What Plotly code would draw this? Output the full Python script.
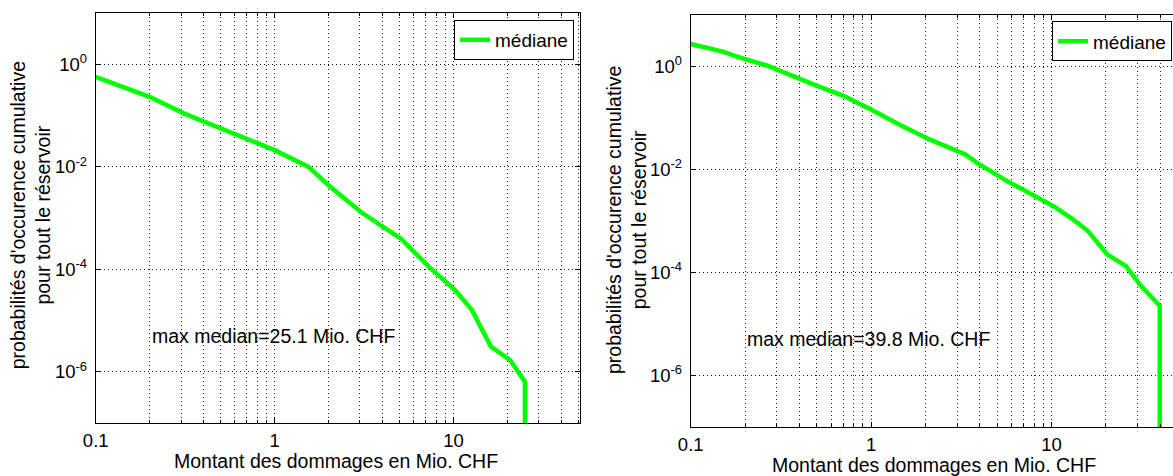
import math
import plotly.graph_objects as go

W, H = 1173, 476

# ---- data ----
left_x = [0.1, 0.2, 0.313, 0.52, 0.785, 1.0, 1.55, 2.0, 3.05, 5.07, 7.3, 10.2, 12.7, 16.2, 20.7, 25.1, 25.1]
left_y = [0.575, 0.234, 0.11, 0.054, 0.0296, 0.0213, 0.01, 0.0044, 0.0013, 4.0e-4, 1.12e-4, 3.95e-5,
          1.6e-5, 3.1e-6, 1.7e-6, 6.4e-7, 1e-9]

right_x = [0.1, 0.149, 0.19, 0.266, 0.498, 0.697, 1.0, 1.43, 2.11, 3.33, 3.85, 5.67, 8.13, 10.2,
           13.1, 15.9, 20.3, 25.8, 31.3, 39.8, 39.8]
right_y = [2.7, 1.95, 1.45, 1.03, 0.42, 0.27, 0.145, 0.074, 0.038, 0.0195, 0.0135, 0.0059, 0.003,
           0.00195, 0.00108, 6.4e-4, 2.25e-4, 1.34e-4, 5.5e-5, 2.25e-5, 1e-9]

max_median = [25.1, 39.8]
series_name = "médiane"
x_title = "Montant des dommages en Mio. CHF"
y_title = "probabilités d'occurence cumulative<br>pour tout le réservoir"

x_tickvals = [0.1, 1, 10]
x_ticktext = ["0.1", "1", "10"]
x_minorvals = [0.2, 0.3, 0.4, 0.5, 0.6, 0.7, 0.8, 0.9, 2, 3, 4, 5, 6, 7, 8, 9, 20, 30, 40, 50]
y_tickvals = [1e-6, 1e-4, 1e-2, 1]
y_ticktext = ["10<sup>-6</sup>", "10<sup>-4</sup>", "10<sup>-2</sup>", "10<sup>0</sup>"]

FONT = "Liberation Sans, Arial, sans-serif"
GREEN = "#00ff00"
GRID = "#1a1a1a"
DASH = "1px,3px"

fig = go.Figure()
fig.add_trace(go.Scatter(x=left_x, y=left_y, mode="lines", name=series_name,
                         line=dict(color=GREEN, width=4.5), xaxis="x", yaxis="y",
                         legend="legend"))
fig.add_trace(go.Scatter(x=right_x, y=right_y, mode="lines", name=series_name,
                         line=dict(color=GREEN, width=4.5), xaxis="x2", yaxis="y2",
                         legend="legend2"))


def xax(domain, rng, anchor):
    return dict(type="log", domain=domain, range=rng, anchor=anchor, tickmode="array",
                tickvals=x_tickvals, ticktext=x_ticktext, automargin=False,
                showgrid=True, gridcolor=GRID, griddash=DASH, gridwidth=1,
                showline=True, linecolor="black", linewidth=1, mirror="ticks",
                ticks="inside", ticklen=5, tickcolor="black", zeroline=False,
                minor=dict(tickmode="array", tickvals=x_minorvals, ticks="inside", ticklen=3,
                           tickcolor="black", showgrid=True, gridcolor=GRID,
                           griddash=DASH, gridwidth=1),
                tickfont=dict(size=18.5, color="black", family=FONT),
                ticklabelstandoff=1)


def yax(domain, anchor, mirror):
    return dict(type="log", domain=domain, range=[-7, 1], anchor=anchor, tickmode="array",
                tickvals=y_tickvals, ticktext=y_ticktext, automargin=False,
                showgrid=True, gridcolor=GRID, griddash=DASH, gridwidth=1,
                showline=True, linecolor="black", linewidth=1, mirror=mirror,
                ticks="inside", ticklen=5, tickcolor="black", zeroline=False,
                tickfont=dict(size=18.5, color="black", family=FONT),
                ticklabelstandoff=4)


L0, L1 = 95.7, 580.0
R0 = 690.7
r_dec = 180.4
r_end = -1 + (W - R0) / r_dec

fig.update_layout(
    width=W, height=H,
    margin=dict(l=0, r=0, t=0, b=0, autoexpand=False),
    paper_bgcolor="white", plot_bgcolor="white",
    font=dict(family=FONT, color="black", size=19),
    xaxis=xax([L0 / W, L1 / W], [-1, math.log10(51)], "y"),
    yaxis=yax([1 - 423 / H, 1 - 13.3 / H], "x", "ticks"),
    xaxis2=xax([R0 / W, 1.0], [-1, r_end], "y2"),
    yaxis2=yax([1 - 427 / H, 1 - 14.7 / H], "x2", False),
    legend=dict(x=574 / W, y=1 - 20 / H, xanchor="right", yanchor="top",
                bgcolor="white", bordercolor="black", borderwidth=1,
                font=dict(size=19, family=FONT, color="black")),
    legend2=dict(x=1172 / W, y=1 - 21.3 / H, xanchor="right", yanchor="top",
                 bgcolor="white", bordercolor="black", borderwidth=1,
                 font=dict(size=19, family=FONT, color="black")),
    showlegend=True,
)

ann = []
for i, (xr, yr) in enumerate([("x", "y"), ("x2", "y2")]):
    ann.append(dict(x=math.log10(0.2), y=math.log10(5e-6), xref=xr, yref=yr,
                    text=f"max median={max_median[i]} Mio. CHF", showarrow=False,
                    xanchor="left", yanchor="middle",
                    font=dict(size=19.5, family=FONT, color="black")))

# axis titles
for cx, cy in [(336.3, 461), (934, 465)]:
    ann.append(dict(x=cx / W, y=1 - cy / H, xref="paper", yref="paper", text=x_title,
                    showarrow=False, xanchor="center", yanchor="middle",
                    font=dict(size=19.5, family=FONT, color="black")))
for cx, cy in [(30.5, 215.8), (626, 220)]:
    ann.append(dict(x=cx / W, y=1 - cy / H, xref="paper", yref="paper", text=y_title,
                    showarrow=False, xanchor="center", yanchor="middle", textangle=-90,
                    font=dict(size=19.5, family=FONT, color="black")))
fig.update_layout(annotations=ann)

fig.write_html("out.html", config={"displayModeBar": False},
               post_script="document.body.style.margin='0';document.body.style.overflow='hidden';")
